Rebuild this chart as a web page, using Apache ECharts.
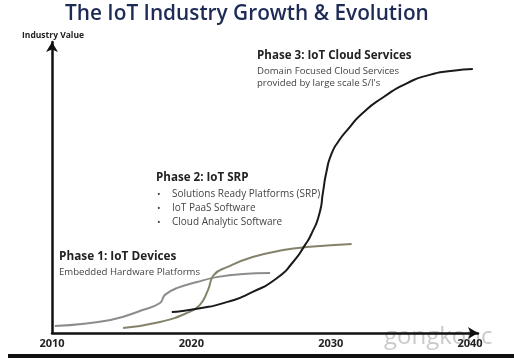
<!DOCTYPE html>
<html><head><meta charset="utf-8">
<script src="https://cdn.jsdelivr.net/npm/echarts@6/dist/echarts.min.js"></script>
<style>html,body{margin:0;padding:0;background:#fff}#c{width:514px;height:358px}</style>
</head><body><div id="c"></div>
<script>
const xTicks = [2010, 2020, 2030, 2040];
const phase1Devices = [[2010.2,2.4],[2014.2,4.5],[2016.5,7.9],[2017.75,10.3],[2018.1,13.1],[2019.0,15.5],[2020.4,17.5],[2021.8,19.2],[2023.7,20.3],[2025.65,20.6]];
const phase2SRP = [[2015.1,1.7],[2017.75,3.8],[2019.7,6.9],[2020.6,9.6],[2021.2,14.8],[2021.6,19.9],[2022.6,22.7],[2024.4,26.1],[2026.6,28.5],[2028.5,29.6],[2031.5,30.6]];
const phase3Cloud = [[2018.6,7.2],[2020.4,8.3],[2022.6,10.7],[2024.4,14.1],[2026.15,18.9],[2027.3,24.4],[2028.15,30.2],[2028.65,34.4],[2029.2,41.2],[2029.45,48.5],[2029.7,55.5],[2030.05,61.5],[2030.55,65.8],[2031.2,69.8],[2032.3,75.6],[2033.8,81.1],[2035.5,85.9],[2037.1,88.7],[2038.6,90.0],[2040.2,90.7]];

const chart = echarts.init(document.getElementById('c'), null, {renderer:'canvas'});
const fontF = 'Open Sans, Lato, sans-serif';
const sub = '9.6px ' + fontF;
chart.setOption({
  animation:false,
  backgroundColor:'#fff',
  grid:{left:52,right:36,top:42,bottom:25},
  xAxis:{type:'value',min:2010,max:2040.57,interval:10,
    axisLine:{show:true,symbol:['none','arrow'],symbolSize:[9,10],lineStyle:{color:'#111',width:2.5}},
    axisTick:{show:false},splitLine:{show:false},
    axisLabel:{showMaxLabel:false,formatter:v=>xTicks.includes(v)?String(v):'',color:'#222',fontWeight:'bold',fontSize:11,fontFamily:fontF,margin:5}
  },
  yAxis:{type:'value',min:0,max:100,
    axisLine:{show:true,symbol:['none','arrow'],symbolSize:[9,10],lineStyle:{color:'#111',width:2.5}},
    axisTick:{show:false},splitLine:{show:false},axisLabel:{show:false}
  },
  series:[
    {type:'line',data:phase1Devices,smooth:0.45,symbol:'none',lineStyle:{color:'#8c8c8c',width:2}},
    {type:'line',data:phase2SRP,smooth:0.5,symbol:'none',lineStyle:{color:'#85826a',width:2}},
    {type:'line',data:phase3Cloud,smooth:0.65,symbol:'none',lineStyle:{color:'#1a1a1a',width:2}}
  ],
  graphic:[
    {type:'text',x:384,y:325,z:-1,style:{text:'gongkonc',font:'24px '+fontF,fill:'#cacaca'}},
    {type:'text',x:65,y:4,style:{text:'The IoT Industry Growth & Evolution',font:'600 20.8px '+fontF,fill:'#1d2b56'}},
    {type:'text',x:22,y:31,style:{text:'Industry Value',font:'bold 8.5px '+fontF,fill:'#222'}},
    {type:'text',x:257,y:50,style:{text:'Phase 3: IoT Cloud Services',font:'bold 11.6px '+fontF,fill:'#222'}},
    {type:'text',x:257,y:66,style:{text:'Domain Focused Cloud Services',font:sub,fill:'#444'}},
    {type:'text',x:257,y:78,style:{text:"provided by large scale S/I's",font:sub,fill:'#444'}},
    {type:'text',x:156,y:172,style:{text:'Phase 2: IoT SRP',font:'bold 11.6px '+fontF,fill:'#222'}},
    {type:'text',x:157,y:189,style:{text:'•',font:sub,fill:'#444'}},
    {type:'text',x:172,y:189,style:{text:'Solutions Ready Platforms (SRP)',font:'10px '+fontF,fill:'#444'}},
    {type:'text',x:157,y:203,style:{text:'•',font:sub,fill:'#444'}},
    {type:'text',x:172,y:203,style:{text:'IoT PaaS Software',font:'10px '+fontF,fill:'#444'}},
    {type:'text',x:157,y:217,style:{text:'•',font:sub,fill:'#444'}},
    {type:'text',x:172,y:217,style:{text:'Cloud Analytic Software',font:'10px '+fontF,fill:'#444'}},
    {type:'text',x:59,y:251,style:{text:'Phase 1: IoT Devices',font:'bold 11.8px '+fontF,fill:'#222'}},
    {type:'text',x:59,y:267,style:{text:'Embedded Hardware Platforms',font:sub,fill:'#444'}},
    {type:'rect',shape:{x:8,y:354,width:506,height:4},style:{fill:'#111'}}
  ]
});
</script></body></html>
